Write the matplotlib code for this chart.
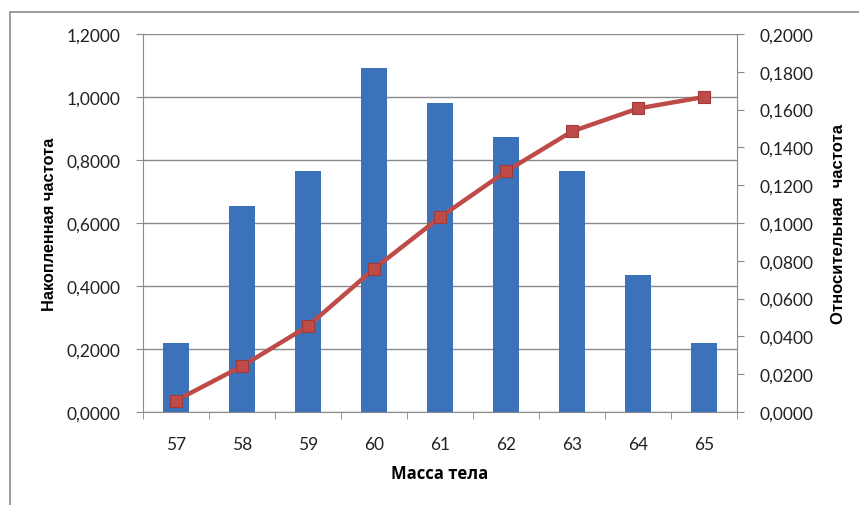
import matplotlib
matplotlib.use("Agg")
import matplotlib.pyplot as plt
from matplotlib.patches import Rectangle
from matplotlib.ticker import FixedLocator, FuncFormatter, MultipleLocator
import numpy as np

categories = ["57", "58", "59", "60", "61", "62", "63", "64", "65"]
relative_freq = [0.0364, 0.1091, 0.1273, 0.1818, 0.1636, 0.1455, 0.1273, 0.0727, 0.0364]
cumulative_freq = [0.0364, 0.1455, 0.2727, 0.4545, 0.6182, 0.7636, 0.8909, 0.9636, 1.0000]

left_label = "Накопленная частота"
right_label = "Относительная  частота"
x_label = "Масса тела"

BAR_COLOR = "#3C72BA"
LINE_COLOR = "#BE4B48"
TICK_FONT = ["Lato", "Open Sans", "DejaVu Sans"]
TICK_SIZE = 12.5
LABEL_FONT = ["Liberation Sans", "DejaVu Sans"]

fig = plt.figure(figsize=(8.59, 5.06), dpi=100)
W, H = 859, 506
fig.patches.append(Rectangle((10 / W, -0.1), 1.2, (506 - 13) / H + 0.1,
                             transform=fig.transFigure, fill=False,
                             edgecolor="#8c8c8c", linewidth=1.2))

ax = fig.add_axes([143 / W, 1 - 413 / H, (737 - 143) / W, (413 - 35) / H])
ax2 = ax.twinx()
ax3 = ax.twinx()

x = np.arange(len(categories))

fmt = FuncFormatter(lambda v, p: f"{v:.4f}".replace(".", ","))

# left axis: grid + labels
ax.set_xlim(-0.5, len(categories) - 0.5)
ax.set_ylim(0, 1.2)
ax.yaxis.set_major_locator(MultipleLocator(0.2))
ax.yaxis.set_major_formatter(fmt)
ax.grid(axis="y", color="#8a8a8a", linewidth=1.0)
ax.set_axisbelow(True)
ax.set_xticks(x)
ax.set_xticklabels(categories)
ax.xaxis.set_minor_locator(FixedLocator(np.arange(-0.5, len(categories), 1.0)))
ax.tick_params(axis="x", which="major", length=0, pad=17)
ax.tick_params(axis="x", which="minor", length=5, color="#8a8a8a")
ax.tick_params(axis="y", length=5, color="#8a8a8a", pad=11)
for lab in ax.get_xticklabels() + ax.get_yticklabels():
    lab.set_family(TICK_FONT)
    lab.set_fontsize(TICK_SIZE)
    lab.set_color("#222222")
for s in ["top", "right"]:
    ax.spines[s].set_visible(False)
for s in ["left", "bottom"]:
    ax.spines[s].set_color("#8a8a8a")
ax.set_ylabel(left_label, family=LABEL_FONT, fontweight="bold", fontsize=11.8)
ax.yaxis.set_label_coords(-0.145, 0.5)
ax.set_xlabel(x_label, family=["Open Sans", "DejaVu Sans"],
              fontweight="bold", fontsize=12)
ax.xaxis.set_label_coords(0.5, -0.138)

# right axis: bars
ax2.bar(x, relative_freq, width=0.4, color=BAR_COLOR, zorder=2)
ax2.set_ylim(0, 0.2)
ax2.yaxis.set_major_locator(MultipleLocator(0.02))
ax2.yaxis.set_major_formatter(fmt)
ax2.tick_params(axis="y", length=5, color="#8a8a8a", pad=11)
for lab in ax2.get_yticklabels():
    lab.set_family(TICK_FONT)
    lab.set_fontsize(TICK_SIZE)
    lab.set_color("#222222")
for s in ["top", "left", "bottom"]:
    ax2.spines[s].set_visible(False)
ax2.spines["right"].set_color("#8a8a8a")
ax2.set_ylabel(right_label, family=LABEL_FONT, fontweight="bold", fontsize=12)
ax2.yaxis.set_label_coords(1.158, 0.5)

# line on left scale
ax3.plot(x, cumulative_freq, color=LINE_COLOR, linewidth=3.2,
         marker="s", markersize=8, markerfacecolor=LINE_COLOR,
         markeredgecolor="#9E3A38", markeredgewidth=0.8)
ax3.set_ylim(0, 1.2)
ax3.set_yticks([])
for s in ax3.spines.values():
    s.set_visible(False)

fig.savefig("out.png", dpi=100)
